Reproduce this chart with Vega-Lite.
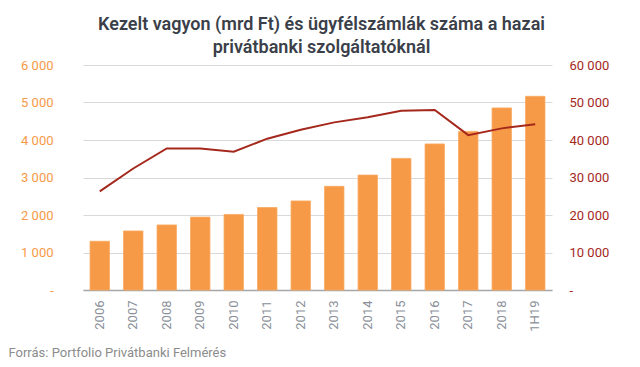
{
  "$schema": "https://vega.github.io/schema/vega-lite/v6.json",
  "width": 469,
  "height": 225,
  "autosize": {"type": "none"},
  "padding": {"left": 83, "top": 65, "right": 88, "bottom": 77},
  "background": "white",
  "config": {
    "font": "Roboto",
    "view": {"stroke": null}
  },
  "title": {
    "text": ["Kezelt vagyon (mrd Ft) és ügyfélszámlák száma a hazai", "privátbanki szolgáltatóknál"],
    "font": "Roboto",
    "fontSize": 18,
    "fontWeight": 600,
    "color": "#3b3f4a",
    "lineHeight": 23,
    "anchor": "middle",
    "dx": 4,
    "offset": 2
  },
  "data": {
    "values": [
      {"ev": "2006", "vagyon": 1300, "szamlak": 26300},
      {"ev": "2007", "vagyon": 1575, "szamlak": 32400},
      {"ev": "2008", "vagyon": 1735, "szamlak": 37750},
      {"ev": "2009", "vagyon": 1945, "szamlak": 37750},
      {"ev": "2010", "vagyon": 2015, "szamlak": 36900},
      {"ev": "2011", "vagyon": 2200, "szamlak": 40350},
      {"ev": "2012", "vagyon": 2375, "szamlak": 42750},
      {"ev": "2013", "vagyon": 2765, "szamlak": 44700},
      {"ev": "2014", "vagyon": 3065, "szamlak": 46050},
      {"ev": "2015", "vagyon": 3510, "szamlak": 47800},
      {"ev": "2016", "vagyon": 3895, "szamlak": 48000},
      {"ev": "2017", "vagyon": 4230, "szamlak": 41300},
      {"ev": "2018", "vagyon": 4855, "szamlak": 43100},
      {"ev": "1H19", "vagyon": 5165, "szamlak": 44200}
    ]
  },
  "encoding": {
    "x": {
      "field": "ev",
      "type": "ordinal",
      "sort": null,
      "scale": {"paddingInner": 0.42, "paddingOuter": 0.21},
      "axis": {
        "title": "Forrás: Portfolio Privátbanki Felmérés",
        "titleAnchor": "start",
        "titleAlign": "left",
        "titleX": -75,
        "titleY": 66,
        "titleBaseline": "alphabetic",
        "titleFont": "Roboto",
        "titleFontSize": 13,
        "titleFontWeight": "normal",
        "titleColor": "#8c8c8c",
        "labelAngle": -90,
        "labelFontSize": 13,
        "labelColor": "#8a8f99",
        "labelPadding": 10,
        "ticks": false,
        "domainColor": "#a6a6a6",
        "domainWidth": 1.5,
        "grid": false
      }
    }
  },
  "layer": [
    {
      "mark": {"type": "bar", "color": "#f79a47", "stroke": "#f9aa62", "strokeWidth": 0.8},
      "encoding": {
        "y": {
          "field": "vagyon",
          "type": "quantitative",
          "scale": {"domain": [0, 6000], "nice": false},
          "axis": {
            "title": null,
            "values": [0, 1000, 2000, 3000, 4000, 5000, 6000],
            "labelExpr": "datum.value == 0 ? '-' : replace(format(datum.value, ','), ',', ' ')",
            "labelColor": "#f79a47",
            "labelFontSize": 13,
            "labelPadding": 30,
            "ticks": false,
            "domain": false,
            "grid": true,
            "gridColor": "#d9d9d9",
            "gridWidth": 1.2
          }
        }
      }
    },
    {
      "mark": {"type": "line", "color": "#a5281d", "strokeWidth": 2},
      "encoding": {
        "y": {
          "field": "szamlak",
          "type": "quantitative",
          "scale": {"domain": [0, 60000], "nice": false},
          "axis": {
            "title": null,
            "orient": "right",
            "values": [0, 10000, 20000, 30000, 40000, 50000, 60000],
            "labelExpr": "datum.value == 0 ? '-' : replace(format(datum.value, ','), ',', ' ')",
            "labelColor": "#a5281d",
            "labelFontSize": 13,
            "labelPadding": 17,
            "ticks": false,
            "domain": false,
            "grid": false
          }
        }
      }
    }
  ],
  "resolve": {"scale": {"y": "independent"}}
}
